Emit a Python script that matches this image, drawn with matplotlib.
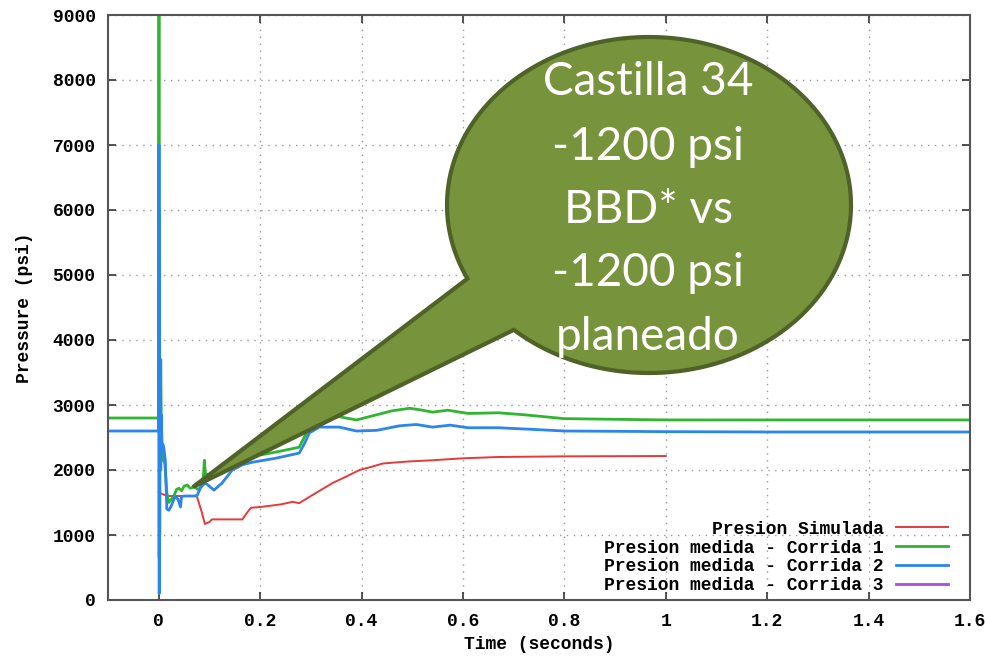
import numpy as np
import matplotlib
matplotlib.use("Agg")
import matplotlib.pyplot as plt
from matplotlib.patches import Polygon

# Presion Simulada
t_sim = [0.0, 0.002, 0.01, 0.02, 0.075, 0.085, 0.091, 0.1, 0.105, 0.165, 0.172,
         0.182, 0.2, 0.24, 0.264, 0.277, 0.3, 0.343, 0.37, 0.396, 0.42, 0.442,
         0.49, 0.54, 0.6, 0.67, 0.8, 1.0]
p_sim = [1660, 1650, 1620, 1600, 1600, 1350, 1170, 1200, 1240, 1240, 1320,
         1420, 1430, 1470, 1510, 1490, 1600, 1800, 1900, 2000, 2050, 2100,
         2130, 2150, 2180, 2200, 2210, 2215]

# Presion medida - Corrida 1
t_run1 = [-0.1, 0.0, 0.0005, 0.001, 0.0015, 0.002, 0.003, 0.004, 0.005, 0.007,
          0.009, 0.012, 0.016, 0.02, 0.025, 0.03, 0.035, 0.04, 0.045, 0.05,
          0.056, 0.062, 0.07, 0.078, 0.085, 0.088, 0.09, 0.092, 0.1, 0.12,
          0.15, 0.178, 0.2, 0.24, 0.277, 0.29, 0.30, 0.32, 0.356, 0.39, 0.43,
          0.46, 0.495, 0.52, 0.54, 0.57, 0.61, 0.67, 0.72, 0.8, 1.0, 1.2, 1.4, 1.6]
p_run1 = [2800, 2800, 9000, 650, 6000, 3000, 2000, 3700, 2850, 2300,
          2150, 2100, 1650, 1500, 1550, 1600, 1700, 1720, 1680, 1750,
          1770, 1720, 1740, 1700, 1750, 1900, 2150, 1950, 1900, 2050,
          2150, 2210, 2230, 2290, 2350, 2550, 2720, 2800, 2820, 2770, 2850,
          2910, 2950, 2920, 2890, 2920, 2870, 2880, 2850, 2790, 2770, 2770, 2770, 2770]

# Presion medida - Corrida 2
t_run2 = [-0.1, 0.0, 0.0005, 0.001, 0.0015, 0.002, 0.003, 0.004, 0.005, 0.006,
          0.008, 0.010, 0.013, 0.016, 0.02, 0.025, 0.03, 0.033, 0.038, 0.043,
          0.045, 0.05, 0.06, 0.07, 0.076, 0.083, 0.092, 0.1, 0.109, 0.125,
          0.145, 0.165, 0.185, 0.23, 0.277, 0.287, 0.297, 0.317, 0.356, 0.39,
          0.43, 0.475, 0.508, 0.54, 0.575, 0.61, 0.67, 0.75, 0.8, 1.0, 1.2, 1.4, 1.6]
p_run2 = [2600, 2600, 7000, 100, 5200, 1000, 3700, 2000, 2850, 2300,
          2400, 2350, 2150, 1400, 1380, 1450, 1550, 1590, 1550, 1430,
          1590, 1600, 1600, 1600, 1610, 1740, 1800, 1750, 1690, 1800,
          2000, 2080, 2120, 2180, 2260, 2400, 2570, 2660, 2660, 2600,
          2610, 2680, 2700, 2660, 2690, 2650, 2650, 2620, 2600, 2590, 2585, 2585, 2585]

# Presion medida - Corrida 3 (no data visible)
t_run3 = []
p_run3 = []

x_ticks = [0, 0.2, 0.4, 0.6, 0.8, 1.0, 1.2, 1.4, 1.6]
x_tick_labels = ["0", "0.2", "0.4", "0.6", "0.8", "1", "1.2", "1.4", "1.6"]
y_ticks = list(range(0, 9001, 1000))

bubble_lines = ["Castilla 34", "-1200 psi", "BBD* vs", "-1200 psi", "planeado"]

W, H = 985, 657
mono = {"family": "Liberation Mono", "weight": "bold", "size": 13}

fig = plt.figure(figsize=(W / 100, H / 100), dpi=100)
ax = fig.add_axes([108 / W, 1 - 600 / H, (970 - 108) / W, (600 - 15) / H])

ax.plot(t_sim, p_sim, color="#e8393a", lw=1.4, label="Presion Simulada")
ax.plot(t_run1, p_run1, color="#2fb52f", lw=2.0, label="Presion medida - Corrida 1")
ax.plot(t_run2, p_run2, color="#2a85ee", lw=2.0, label="Presion medida - Corrida 2")
ax.plot(t_run3, p_run3, color="#b04ae0", lw=2.0, label="Presion medida - Corrida 3")

ax.set_xlim(-0.1, 1.6)
ax.set_ylim(0, 9000)
ax.set_xticks(x_ticks)
ax.set_xticklabels(x_tick_labels)
ax.set_yticks(y_ticks)
ax.grid(True, color="#999999", ls=(0, (1, 4)), lw=1.0)
ax.tick_params(direction="in", length=6, width=1.2, top=True, right=True,
               color="#333333", pad=9)
for lab in ax.get_xticklabels() + ax.get_yticklabels():
    lab.set(**mono)
for s in ax.spines.values():
    s.set_color("#555555")
    s.set_linewidth(1.5)

ax.set_xlabel("Time (seconds)", fontdict=mono, labelpad=5)
ax.set_ylabel("Pressure (psi)", fontdict=mono, labelpad=14)

leg = ax.legend(loc="lower right", bbox_to_anchor=((948 - 108) / 862, 0.01),
                frameon=False, markerfirst=False, prop=mono, handlelength=2.9,
                handletextpad=0.65, labelspacing=0.1, borderpad=0, borderaxespad=0)

# speech bubble (figure pixel coords, y measured from top)
cx, cy, a, b = 649, 205, 202, 168
tip = (193, 487)
ang = np.radians(np.linspace(154, 360 + 132, 300))
px = cx + a * np.cos(ang)
py = cy + b * np.sin(ang)
pts = np.column_stack([np.append(px, tip[0]), np.append(py, tip[1])])
pts_fig = np.column_stack([pts[:, 0] / W, 1 - pts[:, 1] / H])
bubble = Polygon(pts_fig, closed=True, transform=fig.transFigure,
                 facecolor="#77933c", edgecolor="#4f6228", lw=3.0, zorder=5)
fig.add_artist(bubble)

line_y = [82, 147, 210, 273, 337]
for txt, yy in zip(bubble_lines, line_y):
    fig.text(648 / W, 1 - yy / H, txt, color="white", fontsize=33,
             family="Lato", ha="center", va="center", zorder=6)

fig.savefig("out.png", dpi=100)
